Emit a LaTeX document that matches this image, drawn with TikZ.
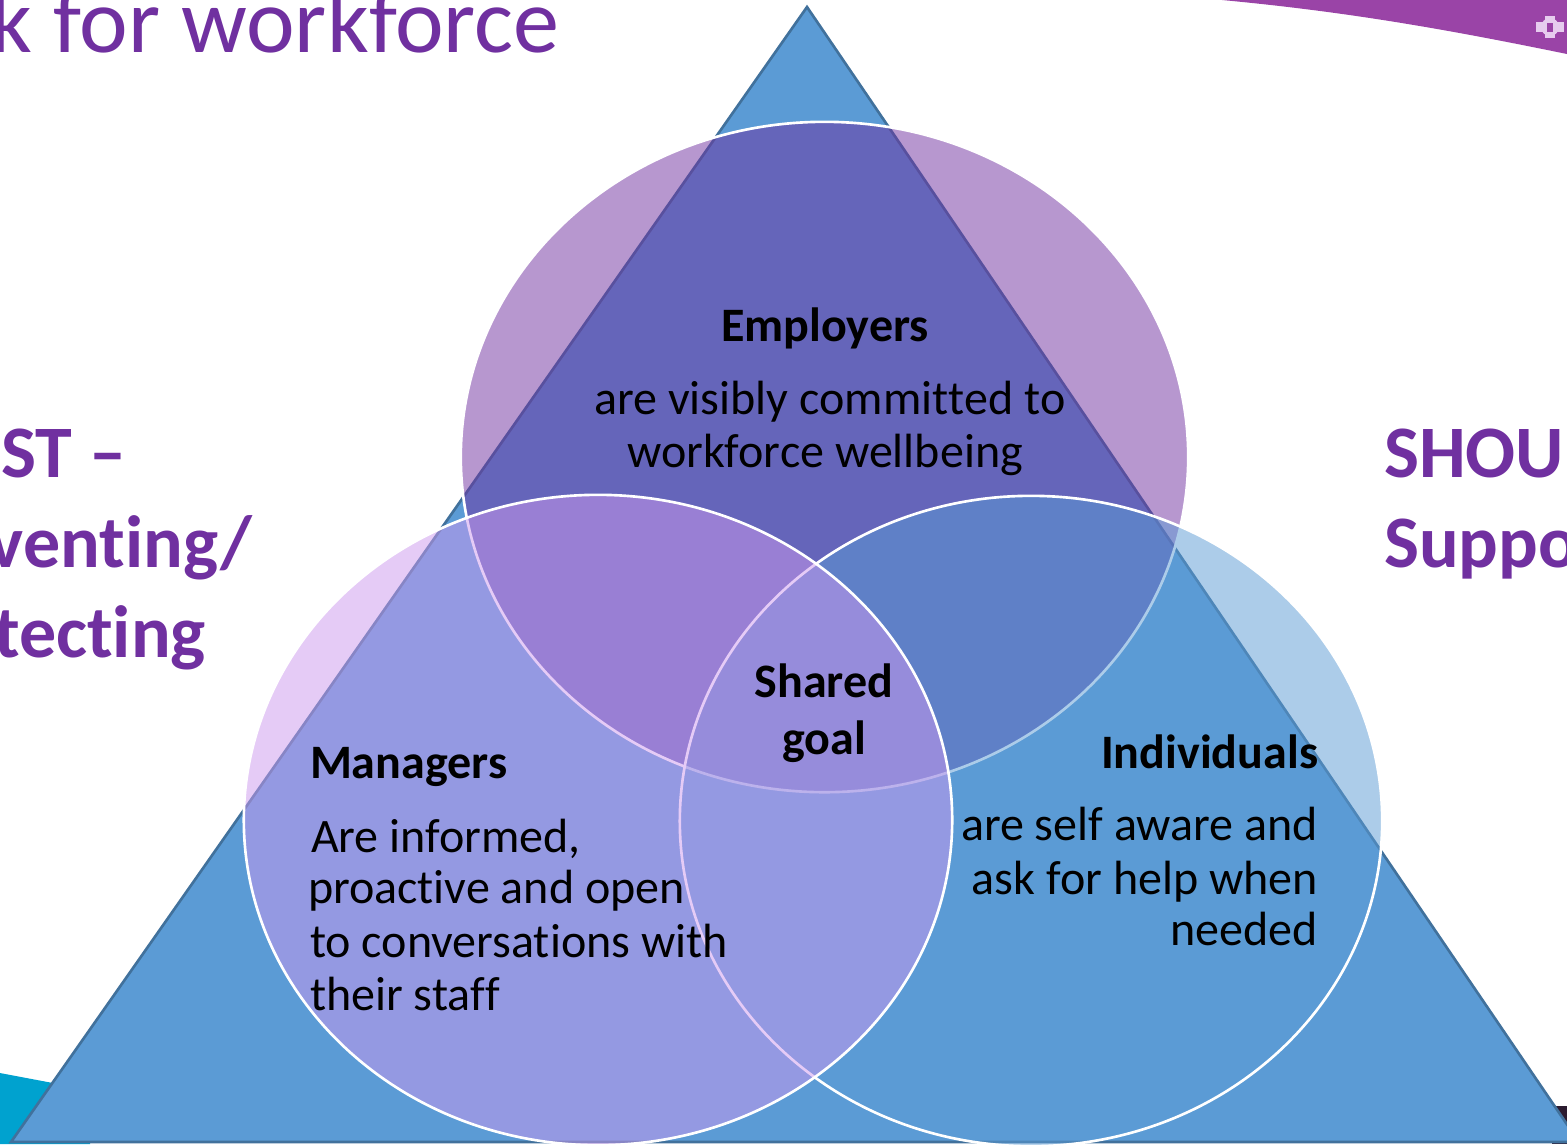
\documentclass[tikz,border=0pt]{standalone}
\usepackage{fontspec}
\setmainfont[Ligatures={NoCommon,NoRare,NoContextual},RawFeature={-liga;-clig;-dlig}]{Carlito}
\definecolor{triblue}{HTML}{5B9BD5}
\definecolor{triedge}{HTML}{41719C}
\definecolor{topcol}{HTML}{7030A0}
\definecolor{leftcol}{RGB}{205,153,239}
\definecolor{titlecol}{HTML}{7030A0}
\definecolor{bandcol}{HTML}{9A44A7}
\definecolor{gearcol}{HTML}{E6CCEE}
\definecolor{cyancol}{HTML}{00A2CF}
\definecolor{darkbit}{HTML}{2B1B30}
\newcommand\bodyfont{\fontsize{13.66pt}{16pt}\selectfont}
\newcommand\sidefont{\fontsize{21.05pt}{25pt}\selectfont\bfseries}
\newcommand\titlefont{\fontsize{26.2pt}{31pt}\selectfont}
\newcommand\nolig{\kern0pt }
\begin{document}
\begin{tikzpicture}[x=0.01cm,y=-0.01cm,
  txt/.style={inner sep=0pt,outer sep=0pt,font=\bodyfont,text=black},
  bold/.style={txt,font=\bodyfont\bfseries},
  side/.style={inner sep=0pt,outer sep=0pt,font=\sidefont,text=titlecol},
  venn/.style={draw=white,line width=0.75pt,fill opacity=0.5}]
\useasboundingbox (0,0) rectangle (1567,1144);
\clip (0,0) rectangle (1567,1144);
\fill[white] (0,0) rectangle (1567,1144);
% background decorations
\fill[bandcol] (1222,0) .. controls (1350,12) and (1450,30) .. (1567,54) -- (1567,0) -- cycle;
\fill[gearcol] (1550,27) circle (9);
\fill[gearcol] (1536,22) rectangle (1564,32);
\fill[gearcol] (1545,16) rectangle (1555,38);
\fill[bandcol] (1547,23) rectangle (1553,32);
\fill[cyancol] (0,1073) -- (90,1090) -- (90,1144) -- (0,1144) -- cycle;
\fill[darkbit] (1552,1106) rectangle (1567,1144);
% triangle
\draw[fill=triblue,draw=triedge,line width=0.75pt,line join=miter] (807,7) -- (1579,1142) -- (11,1142) -- cycle;
% ellipses
\draw[venn,fill=topcol] (824.5,457) ellipse [x radius=3.635cm,y radius=3.35cm];
\draw[venn,fill=triblue] (1031,821) ellipse [x radius=3.51cm,y radius=3.25cm];
\draw[venn,fill=leftcol] (598,820) ellipse [x radius=3.54cm,y radius=3.25cm];
% title and side texts
\node[inner sep=0pt,font=\titlefont,text=titlecol,anchor=base east] (title) at (560,52) {k for workforce};
\node[side,anchor=base east] (l1) at (126,477) {ST –};
\node[side,anchor=base east] (l2) at (252,567) {vent\nolig ing/};
\node[side,anchor=base east] (l3) at (206,657) {tect\nolig ing};
\node[side,anchor=base west] (r1) at (1384,477) {SHOULD};
\node[side,anchor=base west] (r2) at (1384,567) {Support};
% employers
\node[bold,anchor=base] (emp) at (825,341) {Employers};
\node[txt,anchor=base] (emp1) at (830,414) {are visibly commit\nolig t\nolig ed to};
\node[txt,anchor=base] (emp2) at (825,467) {workforce wellbeing};
% shared goal
\node[bold,anchor=base] (sh1) at (824,697) {Shared};
\node[bold,anchor=base] (sh2) at (824,754) {goal};
% managers
\node[bold,anchor=base west] (man) at (310,778) {Managers};
\node[txt,anchor=base west] (man1) at (311,852) {Are informed,};
\node[txt,anchor=base west] (man2) at (308,903) {proact\nolig ive and open};
\node[txt,anchor=base west] (man3) at (310,957) {to conversat\nolig ions wit\nolig h};
\node[txt,anchor=base west] (man4) at (310,1010) {their staf\nolig f};
% individuals
\node[bold,anchor=base east] (ind) at (1318,768) {Individuals};
\node[txt,anchor=base east] (ind1) at (1318,840) {are self aware and};
\node[txt,anchor=base east] (ind2) at (1318,894) {ask for help when};
\node[txt,anchor=base east] (ind3) at (1318,945) {needed};
\end{tikzpicture}
\end{document}
